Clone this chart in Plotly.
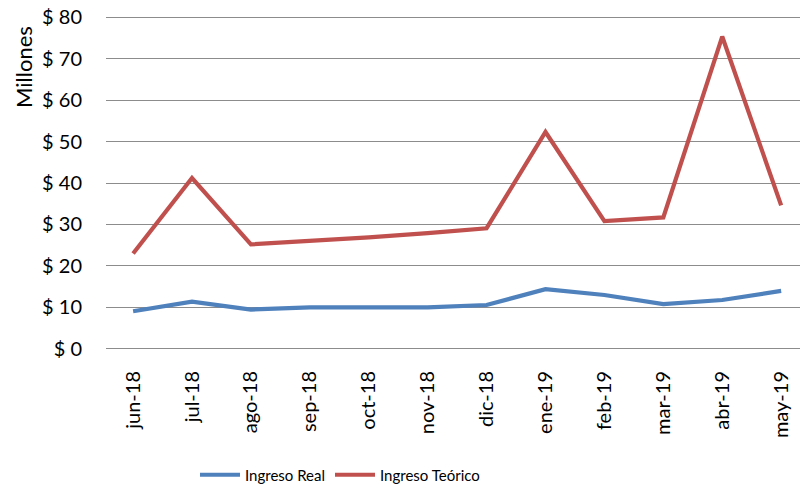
import plotly.graph_objects as go

months = ["jun-18", "jul-18", "ago-18", "sep-18", "oct-18", "nov-18",
          "dic-18", "ene-19", "feb-19", "mar-19", "abr-19", "may-19"]
ingreso_real = [9.1, 11.4, 9.5, 10.0, 10.0, 10.0, 10.6, 14.4, 13.0, 10.8, 11.8, 14.0]
ingreso_teorico = [23.0, 41.2, 25.2, 26.0, 26.9, 27.9, 29.1, 52.3, 30.8, 31.7, 75.3, 34.6]
y_ticks = [0, 10, 20, 30, 40, 50, 60, 70, 80]

FONT = "Lato"
L, R, T, B = 106, 4, 16, 136
W, H = 804, 486
PW, PH = W - L - R, H - T - B


def px_x(px):
    return (px - L) / PW


def px_y(py):
    return (H - B - py) / PH


fig = go.Figure()
fig.add_trace(go.Scatter(x=list(range(len(months))), y=ingreso_real, mode="lines",
                         name="Ingreso Real", line=dict(color="#4F81BD", width=4.2)))
fig.add_trace(go.Scatter(x=list(range(len(months))), y=ingreso_teorico, mode="lines",
                         name="Ingreso Teórico", line=dict(color="#C0504D", width=4.2)))

fig.update_layout(
    width=W, height=H,
    margin=dict(l=L, r=R, t=T, b=B, autoexpand=False),
    paper_bgcolor="white", plot_bgcolor="white",
    font=dict(family=FONT, size=18, color="#000000"),
    showlegend=True,
    legend=dict(orientation="h", x=px_x(195), xanchor="left", y=px_y(475), yanchor="middle",
                font=dict(size=15), itemwidth=40, tracegroupgap=0),
    xaxis=dict(
        range=[-0.46, 11.32], automargin=False,
        tickmode="array", tickvals=list(range(len(months))), ticktext=months,
        tickangle=-90, showgrid=False, zeroline=False, showline=False,
        ticks="", ticklabelstandoff=16, tickfont=dict(size=20),
    ),
    yaxis=dict(
        range=[-0.25, 80.25], automargin=False, tickmode="array", tickvals=y_ticks,
        ticktext=[f"$ {v}" for v in y_ticks],
        showgrid=True, gridcolor="#8C8C8C", gridwidth=1.3,
        zeroline=False, showline=False, ticks="", ticklabelstandoff=23,
        tickfont=dict(size=20),
    ),
    annotations=[dict(text="Millones", x=px_x(23), y=px_y(67), xref="paper", yref="paper",
                      showarrow=False, textangle=-90, font=dict(size=22),
                      xanchor="center", yanchor="middle")],
)

fig.write_html("out.html", config={"displayModeBar": False},
               post_script="document.body.style.margin='0';document.body.style.overflow='hidden';")
